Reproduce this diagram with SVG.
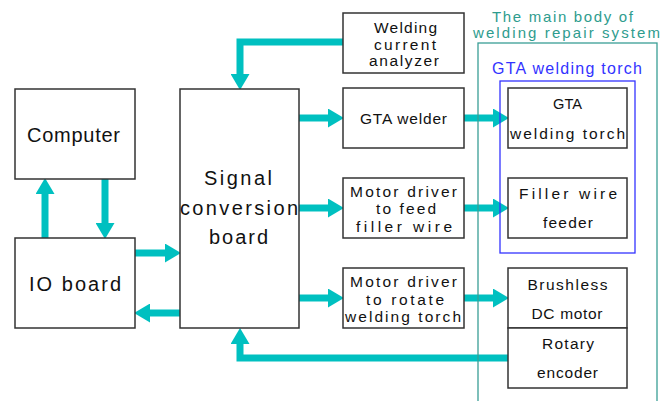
<svg xmlns="http://www.w3.org/2000/svg" width="671" height="401" viewBox="0 0 671 401">
<defs>
<style>
.box{fill:#fff;stroke:#333;stroke-width:1.5}
.t{font-family:"Liberation Sans",Arial,sans-serif;fill:#111;text-anchor:middle}
.big{font-size:20px}
.sm{font-size:15.5px}
.conn{fill:none;stroke:#00C0C0;stroke-width:7;marker-end:url(#ah)}
.frame-t{font-family:"Liberation Sans",Arial,sans-serif;fill:#2E9C8E;font-size:15px;text-anchor:middle}
.frame-b{font-family:"Liberation Sans",Arial,sans-serif;fill:#3333FF;font-size:16px;text-anchor:middle}
</style>
<marker id="ah" markerUnits="userSpaceOnUse" markerWidth="16" markerHeight="19" refX="0" refY="9.5" orient="auto">
<path d="M0,0 L16,9.5 L0,19 z" fill="#00C0C0"/>
</marker>
</defs>
<rect width="671" height="401" fill="#fff"/>
<g id="connectors">
<path class="conn" d="M343,42 H240 V74"/>
<path class="conn" d="M299,118 H328"/>
<path class="conn" d="M299,208 H328"/>
<path class="conn" d="M299,298 H328"/>
<path class="conn" d="M464,118 H493"/>
<path class="conn" d="M464,208 H493"/>
<path class="conn" d="M464,298 H493"/>
<path class="conn" d="M508,358 H240 V344"/>
<path class="conn" d="M135,253 H165"/>
<path class="conn" d="M180,313 H150"/>
<path class="conn" d="M45,238 V194"/>
<path class="conn" d="M105,179 V223"/>
</g>
<g id="main-body">
<rect x="478" y="43" width="179" height="370" fill="none" stroke="#3A9E96" stroke-width="1.3"/>
<text class="frame-t" x="562.5" y="22" textLength="141" lengthAdjust="spacing">The main body of</text>
<text class="frame-t" x="566.5" y="38" textLength="187" lengthAdjust="spacing">welding repair system</text>
</g>
<g id="torch-group">
<rect x="500" y="81" width="135" height="172" fill="none" stroke="#3333FF" stroke-width="1.3"/>
<text class="frame-b" x="567" y="74" textLength="150" lengthAdjust="spacing">GTA welding torch</text>
</g>
<g id="computer">
<rect class="box" x="15" y="89" width="120" height="90"/>
<text class="t big" x="73.5" y="142" textLength="93" lengthAdjust="spacing">Computer</text>
</g>
<g id="io-board">
<rect class="box" x="15" y="238" width="120" height="90"/>
<text class="t big" x="75" y="291" textLength="92" lengthAdjust="spacing">IO board</text>
</g>
<g id="signal-board">
<rect class="box" x="180" y="89" width="119" height="239"/>
<text class="t big" x="238" y="185" textLength="68" lengthAdjust="spacing">Signal</text>
<text class="t big" x="239" y="215" textLength="118" lengthAdjust="spacing">conversion</text>
<text class="t big" x="238.5" y="244" textLength="59" lengthAdjust="spacing">board</text>
</g>
<g id="analyzer">
<rect class="box" x="343" y="13" width="121" height="60"/>
<text class="t sm" x="405.5" y="33" textLength="63" lengthAdjust="spacing">Welding</text>
<text class="t sm" x="405" y="50" textLength="62" lengthAdjust="spacing">current</text>
<text class="t sm" x="404" y="66" textLength="70" lengthAdjust="spacing">analyzer</text>
</g>
<g id="gta-welder">
<rect class="box" x="343" y="88" width="121" height="60"/>
<text class="t sm" x="403.5" y="124" textLength="87" lengthAdjust="spacing">GTA welder</text>
</g>
<g id="feed-driver">
<rect class="box" x="343" y="178" width="121" height="60"/>
<text class="t sm" x="403.5" y="197" textLength="107" lengthAdjust="spacing">Motor driver</text>
<text class="t sm" x="406" y="214" textLength="60" lengthAdjust="spacing">to feed</text>
<text class="t sm" x="404" y="232" textLength="96" lengthAdjust="spacing">filler wire</text>
</g>
<g id="rotate-driver">
<rect class="box" x="343" y="268" width="121" height="60"/>
<text class="t sm" x="403.5" y="287" textLength="107" lengthAdjust="spacing">Motor driver</text>
<text class="t sm" x="405" y="305" textLength="78" lengthAdjust="spacing">to rotate</text>
<text class="t sm" x="403" y="322" textLength="116" lengthAdjust="spacing">welding torch</text>
</g>
<g id="torch">
<rect class="box" x="508" y="88" width="119" height="60"/>
<text class="t sm" x="567.5" y="109" textLength="29" lengthAdjust="spacingAndGlyphs">GTA</text>
<text class="t sm" x="567.5" y="139" textLength="115" lengthAdjust="spacing">welding torch</text>
</g>
<g id="filler-feeder">
<rect class="box" x="508" y="178" width="119" height="60"/>
<text class="t sm" x="568" y="199" textLength="98" lengthAdjust="spacing">Filler wire</text>
<text class="t sm" x="568" y="228" textLength="50" lengthAdjust="spacing">feeder</text>
</g>
<g id="motor">
<rect class="box" x="508" y="268" width="119" height="60"/>
<text class="t sm" x="567.5" y="290" textLength="80" lengthAdjust="spacing">Brushless</text>
<text class="t sm" x="567" y="319" textLength="71" lengthAdjust="spacing">DC motor</text>
</g>
<g id="encoder">
<rect class="box" x="508" y="328" width="119" height="60"/>
<text class="t sm" x="568" y="349" textLength="52" lengthAdjust="spacing">Rotary</text>
<text class="t sm" x="567.5" y="378" textLength="61" lengthAdjust="spacing">encoder</text>
</g>
</svg>
